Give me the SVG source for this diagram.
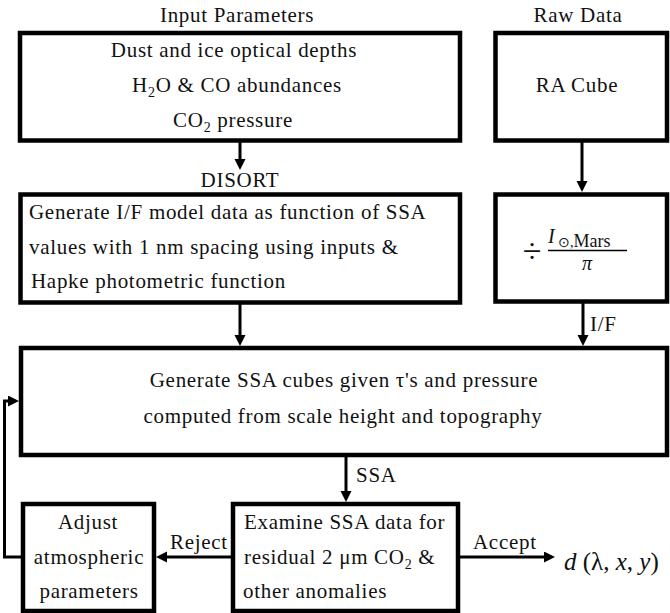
<svg xmlns="http://www.w3.org/2000/svg" width="670" height="613" viewBox="0 0 670 613">
<style>
.box{fill:#fff;stroke:#000;stroke-width:4.5}
text{font-family:'Liberation Serif','Times New Roman',serif;fill:#111}
.t{font-size:21px;letter-spacing:0.7px}
.c{text-anchor:middle}
.sub{font-size:14px}
.it{font-style:italic}
.ln{fill:none;stroke:#000;stroke-width:3}
</style>
<defs>
<marker id="ah" markerUnits="userSpaceOnUse" markerWidth="12" markerHeight="12" refX="5" refY="5.5" orient="auto">
<path d="M0,0 L11,5.5 L0,11 z" fill="#000"/>
</marker>
</defs>
<rect width="670" height="613" fill="#fff"/>
<text class="t c" x="237" y="22">Input Parameters</text>
<text class="t c" x="578" y="22">Raw Data</text>

<g id="input">
<rect class="box" x="20" y="33" width="440" height="107.5"/>
<text class="t c" x="234" y="57">Dust and ice optical depths</text>
<text class="t c" x="237" y="92">H<tspan class="sub" dy="5">2</tspan><tspan dy="-5">O &amp; CO abundances</tspan></text>
<text class="t c" x="233" y="127">CO<tspan class="sub" dy="5">2</tspan><tspan dy="-5"> pressure</tspan></text>
</g>

<g id="rawdata">
<rect class="box" x="495.5" y="33" width="171.5" height="107.5"/>
<text class="t c" x="577" y="92">RA Cube</text>
</g>

<text id="disort" class="t c" x="240" y="187">DISORT</text>

<g id="model">
<rect class="box" x="20.5" y="194.5" width="439.5" height="108"/>
<text class="t" x="29" y="219">Generate I/F model data as function of SSA</text>
<text class="t" x="29" y="254">values with 1 nm spacing using inputs &amp;</text>
<text class="t" x="31" y="288">Hapke photometric function</text>
</g>

<g id="divide">
<rect class="box" x="495.5" y="194.5" width="171.5" height="107"/>
<text x="532" y="262" text-anchor="middle" style="font-size:34px">÷</text>
<text x="548" y="243" style="font-size:20px;font-style:italic">I</text>
<text x="558" y="247" style="font-size:18px"><tspan style="font-size:14px">⊙,</tspan>Mars</text>
<line x1="548" y1="250.5" x2="627" y2="250.5" stroke="#000" stroke-width="1.3"/>
<text x="587" y="270" text-anchor="middle" style="font-size:20px;font-style:italic">π</text>
</g>

<g id="ssacubes">
<rect class="box" x="21" y="348" width="646" height="107"/>
<text class="t c" x="344" y="387">Generate SSA cubes given τ's and pressure</text>
<text class="t c" x="343" y="423">computed from scale height and topography</text>
</g>

<g id="adjust">
<rect class="box" x="23" y="504" width="131" height="107"/>
<text class="t c" x="88" y="529">Adjust</text>
<text class="t c" x="89" y="564">atmospheric</text>
<text class="t c" x="89" y="598">parameters</text>
</g>

<g id="examine">
<rect class="box" x="233" y="504" width="225" height="107"/>
<text class="t" x="244" y="529">Examine SSA data for</text>
<text class="t" x="244" y="564">residual 2 μm CO<tspan class="sub" dy="5">2</tspan><tspan dy="-5"> &amp;</tspan></text>
<text class="t" x="243" y="598">other anomalies</text>
</g>

<g id="output">
<text x="564" y="570" style="font-size:25px"><tspan class="it">d</tspan> (λ, <tspan class="it">x</tspan>, <tspan class="it">y</tspan>)</text>
</g>

<g id="connectors">
<line class="ln" x1="240" y1="142" x2="240" y2="164" marker-end="url(#ah)"/>
<line class="ln" x1="582" y1="142" x2="582" y2="186" marker-end="url(#ah)"/>
<line class="ln" x1="240" y1="304" x2="240" y2="340" marker-end="url(#ah)"/>
<line class="ln" x1="583" y1="303" x2="583" y2="340" marker-end="url(#ah)"/>
<line class="ln" x1="346" y1="456" x2="346" y2="496" marker-end="url(#ah)"/>
<line class="ln" x1="231" y1="557" x2="162" y2="557" marker-end="url(#ah)"/>
<line class="ln" x1="460" y1="557" x2="549" y2="557" marker-end="url(#ah)"/>
<polyline class="ln" points="21,557 4.5,557 4.5,401 13,401" marker-end="url(#ah)"/>
<text class="t" x="590" y="331">I/F</text>
<text class="t" x="356" y="482">SSA</text>
<text class="t" x="170" y="549">Reject</text>
<text class="t" x="473" y="549">Accept</text>
</g>
</svg>
